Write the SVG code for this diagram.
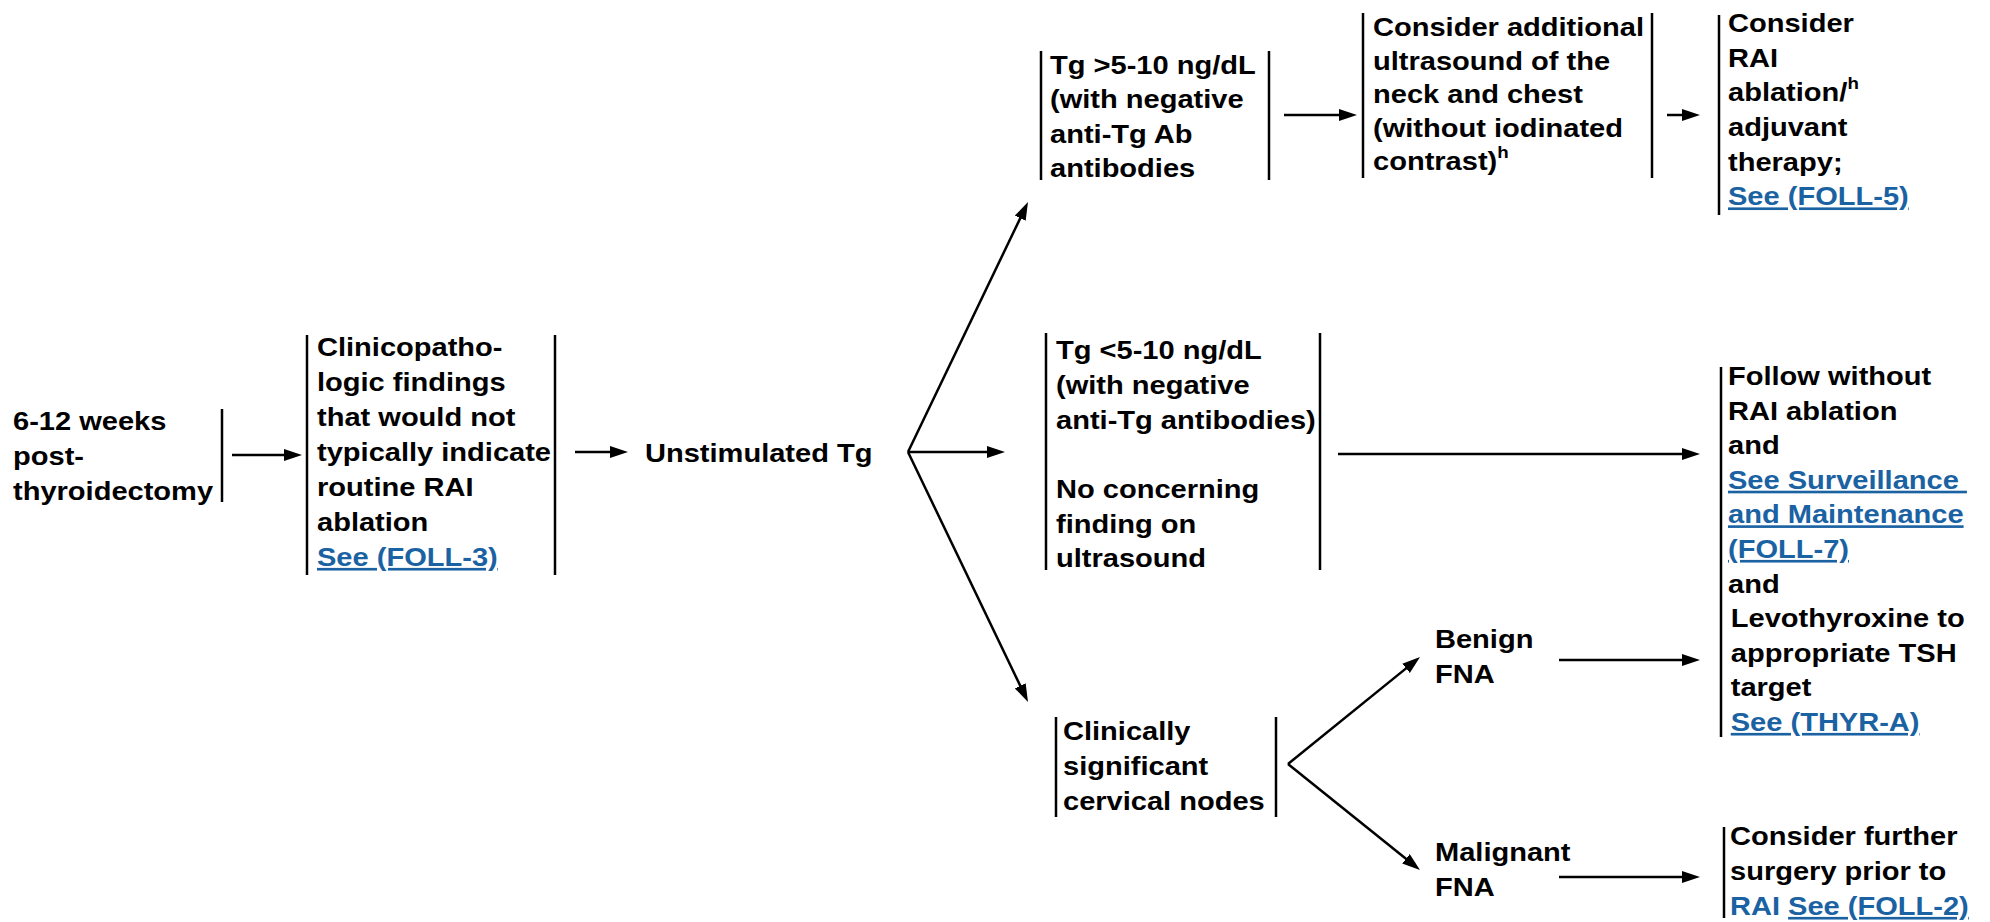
<svg xmlns="http://www.w3.org/2000/svg" width="1990" height="922" viewBox="0 0 1990 922">
<style>
.t{font-family:"Liberation Sans",Arial,sans-serif;font-weight:bold;font-size:26.4px;fill:#000}
.lk{fill:#1b62a3;text-decoration:underline}
.bl{fill:#1b62a3}
.sup{font-size:17px}
.bar{stroke:#000;stroke-width:2.5;fill:none}
.ar{stroke:#000;stroke-width:2.5;fill:none;marker-end:url(#ah)}
</style>
<defs>
<marker id="ah" markerUnits="userSpaceOnUse" markerWidth="20" markerHeight="14" refX="2" refY="6" orient="auto">
<path d="M0,0 L18,6 L0,12 Z" fill="#000"/>
</marker>
</defs>
<rect width="1990" height="922" fill="#fff"/>

<g id="node-start">
<line class="bar" x1="222" y1="409" x2="222" y2="502"/>
<g transform="matrix(1.1 0 0 1 13 0)"><text class="t"><tspan x="0" y="430">6-12 weeks</tspan><tspan x="0" y="465">post-</tspan><tspan x="0" y="500">thyroidectomy</tspan></text></g>
</g>

<g id="node-clinicopath">
<line class="bar" x1="307" y1="335" x2="307" y2="575"/>
<line class="bar" x1="555" y1="335" x2="555" y2="575"/>
<g transform="matrix(1.1 0 0 1 317 0)"><text class="t"><tspan x="0" y="356">Clinicopatho-</tspan><tspan x="0" y="391">logic findings</tspan><tspan x="0" y="426">that would not</tspan><tspan x="0" y="461">typically indicate</tspan><tspan x="0" y="496">routine RAI</tspan><tspan x="0" y="531">ablation</tspan><tspan x="0" y="566" class="lk">See (FOLL-3)</tspan></text></g>
</g>

<g id="node-unstim">
<g transform="matrix(1.1 0 0 1 645 0)"><text class="t"><tspan x="0" y="462">Unstimulated Tg</tspan></text></g>
</g>

<g id="node-tg-high">
<line class="bar" x1="1041" y1="51" x2="1041" y2="180"/>
<line class="bar" x1="1269" y1="51" x2="1269" y2="180"/>
<g transform="matrix(1.1 0 0 1 1050 0)"><text class="t"><tspan x="0" y="74">Tg &gt;5-10 ng/dL</tspan><tspan x="0" y="108.5">(with negative</tspan><tspan x="0" y="143">anti-Tg Ab</tspan><tspan x="0" y="177.5">antibodies</tspan></text></g>
</g>

<g id="node-us">
<line class="bar" x1="1363" y1="13" x2="1363" y2="178"/>
<line class="bar" x1="1652" y1="13" x2="1652" y2="178"/>
<g transform="matrix(1.1 0 0 1 1373 0)"><text class="t"><tspan x="0" y="36.5">Consider additional</tspan><tspan x="0" y="70">ultrasound of the</tspan><tspan x="0" y="103.5">neck and chest</tspan><tspan x="0" y="137">(without iodinated</tspan><tspan x="0" y="170.5">contrast)</tspan><tspan class="sup" dy="-12">h</tspan></text></g>
</g>

<g id="node-rai">
<line class="bar" x1="1719" y1="15" x2="1719" y2="215"/>
<g transform="matrix(1.1 0 0 1 1728 0)"><text class="t"><tspan x="0" y="32">Consider</tspan><tspan x="0" y="66.7">RAI</tspan><tspan x="0" y="101.4">ablation/</tspan><tspan class="sup" dy="-12">h</tspan><tspan x="0" y="136">adjuvant</tspan><tspan x="0" y="170.8">therapy;</tspan><tspan x="0" y="205.5" class="lk">See (FOLL-5)</tspan></text></g>
</g>

<g id="node-tg-low">
<line class="bar" x1="1046" y1="333" x2="1046" y2="570"/>
<line class="bar" x1="1320" y1="333" x2="1320" y2="570"/>
<g transform="matrix(1.1 0 0 1 1056 0)"><text class="t"><tspan x="0" y="359">Tg &lt;5-10 ng/dL</tspan><tspan x="0" y="394">(with negative</tspan><tspan x="0" y="429">anti-Tg antibodies)</tspan><tspan x="0" y="498">No concerning</tspan><tspan x="0" y="533">finding on</tspan><tspan x="0" y="567">ultrasound</tspan></text></g>
</g>

<g id="node-follow">
<line class="bar" x1="1721" y1="367" x2="1721" y2="737"/>
<g transform="matrix(1.1 0 0 1 1728 0)"><text class="t"><tspan x="0" y="385">Follow without</tspan><tspan x="0" y="419.6">RAI ablation</tspan><tspan x="0" y="454.2">and</tspan><tspan x="0" y="488.8" class="lk">See Surveillance&#160;</tspan><tspan x="0" y="523.4" class="lk">and Maintenance</tspan><tspan x="0" y="558" class="lk">(FOLL-7)</tspan><tspan x="0" y="592.6">and</tspan><tspan x="2.5" y="627.2">Levothyroxine to</tspan><tspan x="2.5" y="661.8">appropriate TSH</tspan><tspan x="2.5" y="696.4">target</tspan><tspan x="2.5" y="731" class="lk">See (THYR-A)</tspan></text></g>
</g>

<g id="node-cervical">
<line class="bar" x1="1056" y1="717" x2="1056" y2="817"/>
<line class="bar" x1="1276" y1="717" x2="1276" y2="817"/>
<g transform="matrix(1.1 0 0 1 1063 0)"><text class="t"><tspan x="0" y="740">Clinically</tspan><tspan x="0" y="775">significant</tspan><tspan x="0" y="810">cervical nodes</tspan></text></g>
</g>

<g id="node-benign">
<g transform="matrix(1.1 0 0 1 1435 0)"><text class="t"><tspan x="0" y="648">Benign</tspan><tspan x="0" y="683">FNA</tspan></text></g>
</g>

<g id="node-malignant">
<g transform="matrix(1.1 0 0 1 1435 0)"><text class="t"><tspan x="0" y="861">Malignant</tspan><tspan x="0" y="896">FNA</tspan></text></g>
</g>

<g id="node-surgery">
<line class="bar" x1="1724" y1="827" x2="1724" y2="918"/>
<g transform="matrix(1.1 0 0 1 1730 0)"><text class="t"><tspan x="0" y="845">Consider further</tspan><tspan x="0" y="880">surgery prior to</tspan><tspan x="0" y="915" class="bl">RAI </tspan><tspan class="lk">See (FOLL-2)</tspan></text></g>
</g>

<g id="connectors">
<line class="ar" x1="232" y1="455" x2="286" y2="455"/>
<line class="ar" x1="575" y1="452" x2="612" y2="452"/>
<line class="ar" x1="908" y1="452" x2="989" y2="452"/>
<line class="ar" x1="908" y1="452" x2="1021.1" y2="216.4"/>
<line class="ar" x1="908" y1="452" x2="1021.1" y2="687.6"/>
<line class="ar" x1="1284" y1="115" x2="1341" y2="115"/>
<line class="ar" x1="1667" y1="115" x2="1684" y2="115"/>
<line class="ar" x1="1338" y1="454" x2="1684" y2="454"/>
<line class="ar" x1="1288" y1="764" x2="1407.6" y2="667.1"/>
<line class="ar" x1="1288" y1="764" x2="1407.5" y2="860"/>
<line class="ar" x1="1559" y1="660" x2="1684" y2="660"/>
<line class="ar" x1="1559" y1="877" x2="1684" y2="877"/>
</g>
</svg>
